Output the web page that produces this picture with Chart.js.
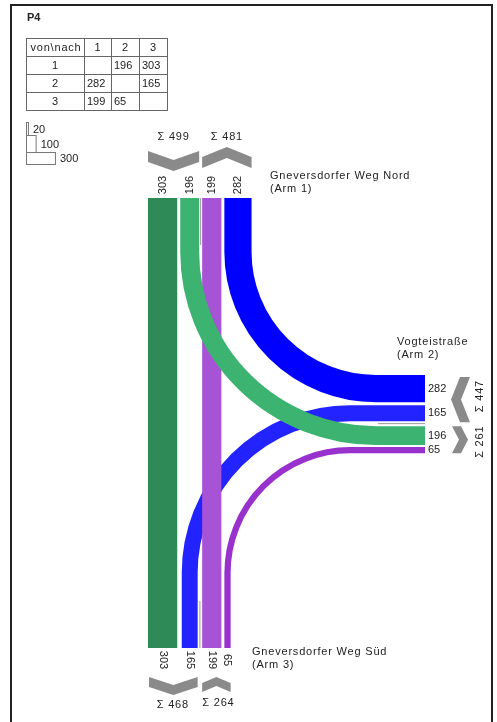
<!DOCTYPE html>
<html>
<head>
<meta charset="utf-8">
<script src="https://cdn.jsdelivr.net/npm/chart.js@4.4.1/dist/chart.umd.min.js"></script>
<style>
  html, body { margin: 0; padding: 0; background: #fff; }
  #wrap { width: 497px; height: 722px; }
</style>
</head>
<body>
<div id="wrap"><canvas id="knoten" width="497" height="722"></canvas></div>
<script>
// P4 – Knotenstrombelastung (von / nach)
const TITLE = 'P4'
const ARM_NAMES = ['Gneversdorfer Weg Nord', 'Vogteistraße', 'Gneversdorfer Weg Süd']
const ARM_NUMBERS = [1, 2, 3]
const FLOW_FROM = [1, 1, 2, 2, 3, 3]
const FLOW_TO = [2, 3, 1, 3, 1, 2]
const FLOW_VALUES = [196, 303, 282, 165, 199, 65]
const LEGEND_VALUES = [20, 100, 300]

// colours per stream (from-to)
const FLOW_COLORS = {
  '1-2': '#3cb371', '1-3': '#2e8b57',
  '2-1': '#0000ff', '2-3': '#2323ff',
  '3-1': '#a653d6', '3-2': '#9932cc'
}
const CHEVRON = '#8a8a8a'
const TEXT = '#222'
const FONT = '11px "Liberation Sans", Arial, sans-serif'

// layout (plot units = canvas px)
const VEH = 0.0965 // width per vehicle
const arm1 = { start: 148, y: 198, order: ['1-3', '1-2', '3-1', '2-1'], gaps: [3, 3, 3] }
const arm2 = { start: 375, x: 425, order: ['2-1', '2-3', '1-2', '3-2'], gaps: [3, 5, 2] }
const arm3 = { start: 148, y: 648, order: ['1-3', '2-3', '3-1', '3-2'], gaps: [4.5, 4.5, 3] }
const upperCorner = { x: 376, y: 252 }
const lowerCorner = { x: 350, y: 573 }
const DRAW_ORDER = ['2-3', '3-1', '1-2', '1-3', '2-1', '3-2']

function flowValue(key) {
  const [a, b] = key.split('-').map(Number)
  for (let i = 0; i < FLOW_VALUES.length; i++) {
    if (FLOW_FROM[i] === a && FLOW_TO[i] === b) return FLOW_VALUES[i]
  }
  return 0
}

function laneLayout(arm) {
  const lanes = {}
  let pos = arm.start
  arm.order.forEach((key, i) => {
    const w = flowValue(key) * VEH
    lanes[key] = { a: pos, b: pos + w, c: pos + w / 2 }
    pos += w + (arm.gaps[i] || 0)
  })
  return lanes
}
const lanes1 = laneLayout(arm1)
const lanes2 = laneLayout(arm2)
const lanes3 = laneLayout(arm3)

const sum = keys => keys.reduce((s, k) => s + flowValue(k), 0)

const knotenPlugin = {
  id: 'knoten',
  afterDatasetsDraw(chart) {
    const ctx = chart.ctx
    const xs = chart.scales.x, ys = chart.scales.y
    const X = v => xs.getPixelForValue(v)
    const Y = v => ys.getPixelForValue(v)
    const W = v => Math.abs(X(v * VEH) - X(0))
    const spaced = on => { if ('letterSpacing' in ctx) ctx.letterSpacing = on ? '0.8px' : '0px' }

    ctx.save()

    // frame
    ctx.strokeStyle = '#222'
    ctx.lineWidth = 2
    ctx.strokeRect(X(11), Y(5), X(492) - X(11), Y(724) - Y(5))

    ctx.fillStyle = TEXT
    ctx.font = 'bold 11px "Liberation Sans", Arial, sans-serif'
    ctx.textBaseline = 'middle'
    ctx.fillText(TITLE, X(27), Y(18))

    // von/nach table
    const colX = [26, 84, 111, 139, 167]
    const rowY = [38, 56, 74, 92, 110]
    ctx.strokeStyle = '#666'
    ctx.lineWidth = 1
    for (let r = 0; r < 4; r++) {
      for (let c = 0; c < 4; c++) {
        ctx.strokeRect(Math.round(X(colX[c])) + 0.5, Math.round(Y(rowY[r])) + 0.5,
          Math.round(X(colX[c + 1]) - X(colX[c])), Math.round(Y(rowY[r + 1]) - Y(rowY[r])))
      }
    }
    ctx.font = FONT
    ctx.fillStyle = TEXT
    const ym = r => (Y(rowY[r]) + Y(rowY[r + 1])) / 2 + 1
    ctx.textAlign = 'center'
    spaced(true)
    ctx.fillText('von\\nach', (X(colX[0]) + X(colX[1])) / 2 + 1, ym(0))
    spaced(false)
    ARM_NUMBERS.forEach((n, i) => {
      ctx.textAlign = 'center'
      ctx.fillText(String(n), (X(colX[i + 1]) + X(colX[i + 2])) / 2, ym(0))
      ctx.fillText(String(n), (X(colX[0]) + X(colX[1])) / 2, ym(i + 1))
    })
    ctx.textAlign = 'left'
    FLOW_VALUES.forEach((v, i) => {
      const r = FLOW_FROM[i], c = FLOW_TO[i]
      ctx.fillText(String(v), X(colX[c] + 3), ym(r))
    })

    // width legend
    const legTop = [122, 135, 152], legBot = [135, 152, 164]
    ctx.strokeStyle = '#777'
    LEGEND_VALUES.forEach((v, i) => {
      const w = W(v)
      ctx.strokeRect(X(26) + 0.5, Y(legTop[i]) + 0.5, w, Y(legBot[i]) - Y(legTop[i]))
      ctx.fillText(String(v), X(26) + w + 5, (Y(legTop[i]) + Y(legBot[i])) / 2 + 1)
    })

    // in/out separators
    ctx.strokeStyle = '#999'
    ctx.lineWidth = 1
    const sep1 = (lanes1['1-2'].b + lanes1['3-1'].a) / 2
    const sep3 = (lanes3['2-3'].b + lanes3['3-1'].a) / 2
    const sep2 = (lanes2['2-3'].b + lanes2['1-2'].a) / 2
    ctx.beginPath()
    ctx.moveTo(X(sep1), Y(arm1.y)); ctx.lineTo(X(sep1), Y(arm1.y + 47))
    ctx.moveTo(X(sep3), Y(arm3.y)); ctx.lineTo(X(sep3), Y(arm3.y - 47))
    ctx.moveTo(X(arm2.x), Y(sep2)); ctx.lineTo(X(arm2.x - 47), Y(sep2))
    ctx.stroke()

    // streams
    ctx.lineCap = 'butt'
    DRAW_ORDER.forEach(key => {
      const arms = key.split('-').map(Number).sort().join('')
      ctx.beginPath()
      ctx.strokeStyle = FLOW_COLORS[key]
      ctx.lineWidth = W(flowValue(key))
      if (arms === '13') {
        const x = lanes1[key].c
        ctx.moveTo(X(x), Y(arm1.y))
        ctx.lineTo(X(x), Y(arm3.y))
      } else if (arms === '12') {
        const lx = lanes1[key].c, ly = lanes2[key].c
        const cx = X(upperCorner.x), cy = Y(upperCorner.y)
        ctx.moveTo(X(lx), Y(arm1.y))
        ctx.lineTo(X(lx), cy)
        ctx.ellipse(cx, cy, Math.abs(cx - X(lx)), Math.abs(Y(ly) - cy), 0, Math.PI, Math.PI / 2, true)
        ctx.lineTo(X(arm2.x), Y(ly))
      } else {
        const lx = lanes3[key].c, ly = lanes2[key].c
        const cx = X(lowerCorner.x), cy = Y(lowerCorner.y)
        ctx.moveTo(X(lx), Y(arm3.y))
        ctx.lineTo(X(lx), cy)
        ctx.ellipse(cx, cy, Math.abs(cx - X(lx)), Math.abs(cy - Y(ly)), 0, Math.PI, 1.5 * Math.PI, false)
        ctx.lineTo(X(arm2.x), Y(ly))
      }
      ctx.stroke()
    })

    // chevrons
    ctx.fillStyle = CHEVRON
    const poly = pts => {
      ctx.beginPath()
      pts.forEach(([px, py], i) => i ? ctx.lineTo(X(px), Y(py)) : ctx.moveTo(X(px), Y(py)))
      ctx.closePath()
      ctx.fill()
    }
    const vDown = (x0, x1, yt, d, t) => {
      const xm = (x0 + x1) / 2
      poly([[x0, yt], [xm, yt + d], [x1, yt], [x1, yt + t], [xm, yt + t + d], [x0, yt + t]])
    }
    const vUp = (x0, x1, yt, d, t) => {
      const xm = (x0 + x1) / 2
      poly([[x0, yt + d], [xm, yt], [x1, yt + d], [x1, yt + d + t], [xm, yt + t], [x0, yt + d + t]])
    }
    const hLeft = (xl, y0, y1, d, t) => {
      const ymid = (y0 + y1) / 2
      poly([[xl + d, y0], [xl + d + t, y0], [xl + t, ymid], [xl + d + t, y1], [xl + d, y1], [xl, ymid]])
    }
    const hRight = (xl, y0, y1, d, t) => {
      const ymid = (y0 + y1) / 2
      poly([[xl, y0], [xl + t, y0], [xl + t + d, ymid], [xl + t, y1], [xl, y1], [xl + d, ymid]])
    }
    const out1 = [lanes1['1-3'].a, lanes1['1-2'].b], in1 = [lanes1['3-1'].a, lanes1['2-1'].b]
    const in3 = [lanes3['1-3'].a, lanes3['2-3'].b], out3 = [lanes3['3-1'].a, lanes3['3-2'].b]
    const out2 = [lanes2['2-1'].a, lanes2['2-3'].b], in2 = [lanes2['1-2'].a, lanes2['3-2'].b]
    vDown(out1[0], out1[1], 151, 9, 11)
    vUp(in1[0], in1[1], 147, 10, 11)
    vDown(in3[0] + 1, in3[1], 677, 8, 10)
    vUp(out3[0], out3[1], 677, 6, 9)
    hLeft(451, out2[0] + 2, out2[1] + 1, 9, 10)
    hRight(452, in2[0], in2[1], 7, 9)

    // labels
    ctx.fillStyle = TEXT
    ctx.font = FONT
    ctx.textAlign = 'center'
    ctx.textBaseline = 'middle'
    spaced(true)
    ctx.fillText('Σ ' + sum(['1-3', '1-2']), X((out1[0] + out1[1]) / 2), Y(137))
    ctx.fillText('Σ ' + sum(['3-1', '2-1']), X((in1[0] + in1[1]) / 2), Y(137))
    ctx.fillText('Σ ' + sum(['1-3', '2-3']), X((in3[0] + in3[1]) / 2), Y(705))
    ctx.fillText('Σ ' + sum(['3-1', '3-2']), X((out3[0] + out3[1]) / 2 + 2), Y(703))
    spaced(false)

    const rotText = (txt, x, y, ang) => {
      ctx.save()
      ctx.translate(X(x), Y(y))
      ctx.rotate(ang)
      ctx.fillText(txt, 0, 0)
      ctx.restore()
    }
    arm1.order.forEach(k => rotText(String(flowValue(k)), lanes1[k].c, 185, -Math.PI / 2))
    arm3.order.forEach(k => rotText(String(flowValue(k)), lanes3[k].c, 660, Math.PI / 2))
    spaced(true)
    rotText('Σ ' + sum(['2-1', '2-3']), 480, (out2[0] + out2[1]) / 2 - 2, -Math.PI / 2)
    rotText('Σ ' + sum(['1-2', '3-2']), 480, (in2[0] + in2[1]) / 2 + 2, -Math.PI / 2)
    spaced(false)

    ctx.textAlign = 'left'
    arm2.order.forEach(k => ctx.fillText(String(flowValue(k)), X(428), Y(lanes2[k].c)))

    spaced(true)
    ctx.fillText(ARM_NAMES[0], X(270), Y(176))
    ctx.fillText('(Arm ' + ARM_NUMBERS[0] + ')', X(270), Y(189))
    ctx.fillText(ARM_NAMES[1], X(397), Y(342))
    ctx.fillText('(Arm ' + ARM_NUMBERS[1] + ')', X(397), Y(355))
    ctx.fillText(ARM_NAMES[2], X(252), Y(652))
    ctx.fillText('(Arm ' + ARM_NUMBERS[2] + ')', X(252), Y(665))
    spaced(false)

    ctx.restore()
  }
}

new Chart(document.getElementById('knoten'), {
  type: 'scatter',
  data: { datasets: [] },
  options: {
    responsive: false,
    animation: false,
    layout: { padding: 0 },
    scales: {
      x: { type: 'linear', min: 0, max: 497, display: false },
      y: { type: 'linear', min: 0, max: 722, reverse: true, display: false }
    },
    plugins: {
      legend: { display: false },
      tooltip: { enabled: false }
    }
  },
  plugins: [knotenPlugin]
})
</script>
</body>
</html>
